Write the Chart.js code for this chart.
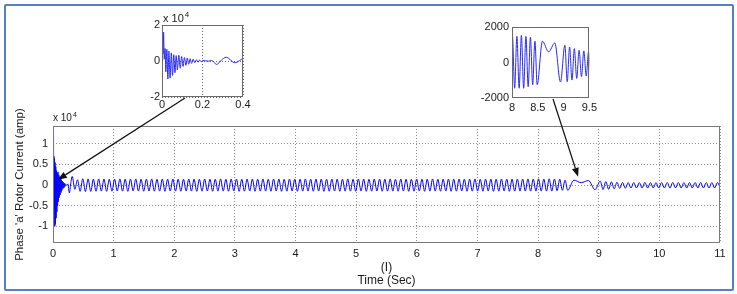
<!DOCTYPE html>
<html>
<head>
<meta charset="utf-8">
<script src="https://cdn.jsdelivr.net/npm/chart.js@4.4.0/dist/chart.umd.min.js"></script>
<style>
  body { margin: 0; background: #fff; }
  #wrap { position: relative; width: 737px; height: 294px; overflow: hidden; }
  #frame { position: absolute; left: 4px; top: 4px; width: 726px; height: 283px; border: 2px solid #5081c8; border-radius: 2px; }
  canvas { position: absolute; }
  #mainChart { left: 0; top: 0; }
  #zoomStart { left: 140px; top: 5px; }
  #zoomEnd { left: 470px; top: 10px; }
</style>
</head>
<body>
<div id="wrap">
  <div id="frame"></div>
  <canvas id="mainChart" width="737" height="294"></canvas>
  <canvas id="zoomStart" width="115" height="110"></canvas>
  <canvas id="zoomEnd" width="130" height="110"></canvas>
</div>
<script>
  // rotor current (amp)
  // start-up transient, explicit time / value pairs
  var transT = [0, 0.002, 0.005, 0.008, 0.011, 0.015, 0.019, 0.024, 0.029, 0.034,
    0.040, 0.046, 0.052, 0.058, 0.064, 0.070, 0.076, 0.083, 0.090, 0.097,
    0.104, 0.111, 0.118, 0.125, 0.132, 0.139, 0.146, 0.154, 0.162, 0.170,
    0.178, 0.186, 0.194, 0.202, 0.215, 0.230, 0.245, 0.270, 0.292, 0.317];
  var transV = [0, 17500, 4000, 16000, 1000, 7000, -6000, 6500, -10000, 5500,
    -9500, 4500, -8000, 3500, -6500, 3000, -5000, 3200, -4000, 2500,
    -3000, 2000, -2400, 1700, -1800, 1300, -1300, 1000, -900, 700,
    -700, 500, -400, 300, 100, -100, 300, -1900, 300, 2100];

  // steady oscillation, extrema sampled every half period
  var steadyStart = 0.36, steadyStep = 0.0437;
  var steadyV = [
    -1000, 1300, -1500, 1550, -1550, 1500, -1520, 1450, -1480, 1500,
    -1450, 1480, -1500, 1420, -1470, 1450, -1430, 1500, -1460, 1440,
    -1500, 1460, -1420, 1490, -1450, 1430, -1480, 1460, -1440, 1500,
    -1470, 1420, -1450, 1480, -1500, 1440, -1430, 1470, -1460, 1450,
    -1480, 1430, -1440, 1490, -1450, 1460, -1500, 1420, -1470, 1480,
    -1430, 1450, -1490, 1440, -1460, 1500, -1450, 1430, -1480, 1470,
    -1440, 1460, -1500, 1420, -1470, 1480, -1430, 1450, -1490, 1440,
    -1460, 1500, -1450, 1430, -1480, 1470, -1440, 1460, -1500, 1420,
    -1470, 1480, -1430, 1450, -1490, 1440, -1460, 1500, -1450, 1430,
    -1480, 1470, -1440, 1460, -1500, 1420, -1470, 1480, -1430, 1450,
    -1490, 1440, -1460, 1500, -1450, 1430, -1480, 1470, -1440, 1460,
    -1500, 1420, -1470, 1480, -1430, 1450, -1490, 1440, -1460, 1500,
    -1450, 1430, -1480, 1470, -1440, 1460, -1500, 1420, -1470, 1480,
    -1430, 1450, -1490, 1440, -1460, 1500, -1450, 1430, -1480, 1470,
    -1440, 1460, -1500, 1420, -1470, 1480, -1430, 1450, -1490, 1440,
    -1460, 1500, -1450, 1430, -1480, 1470, -1440, 1460, -1500, 1420,
    -1470, 1480, -1430, 1450, -1490, 1440, -1460, 1500, -1450, 1480,
    -1440, 1510, -1460, 1490, -1450, 1530, -1450, 1470, -1450, 1530,
    -1450, 1470, -1360, 1430, -1250, 1200, -1250];

  // disturbance around 8.5 - 9 s
  var humpT = [8.59, 8.71, 8.83, 8.94];
  var humpV = [1200, 600, 1100, -1100];

  // after the disturbance
  var tailStart = 9.025, tailStep = 0.046;
  var tailV = [970, -1080, 875, -990, 780, -900, 690, -800, 650, -760, 600, -710,
    620, -700, 600, -690, 640, -700, 620, -680, 600, -700, 630, -690,
    610, -700, 640, -680, 620, -700, 600, -690, 630, -700, 620, -680,
    640, -690, 610, -700, 620, -690, 630, -700];

  var mainXTicks = [0, 1, 2, 3, 4, 5, 6, 7, 8, 9, 10, 11];
  var mainYTicks = [-10000, -5000, 0, 5000, 10000];
  var startXTicks = [0, 0.2, 0.4];
  var startYTicks = [-20000, 0, 20000];
  var endXTicks = [8, 8.5, 9, 9.5];
  var endYTicks = [-2000, 0, 2000];

  function buildPoints() {
    var pts = [];
    transT.forEach(function (t, i) { pts.push({ x: t, y: transV[i] }); });
    steadyV.forEach(function (v, i) { pts.push({ x: steadyStart + i * steadyStep, y: v }); });
    humpT.forEach(function (t, i) { pts.push({ x: t, y: humpV[i] }); });
    tailV.forEach(function (v, i) { pts.push({ x: tailStart + i * tailStep, y: v }); });
    return pts;
  }

  Chart.defaults.font.family = '"Liberation Sans", Arial, sans-serif';
  Chart.defaults.color = '#1a1a1a';

  var FONT = '"Liberation Sans", Arial, sans-serif';

  // plot box + "x 10^n" label
  var boxPlugin = {
    id: 'box',
    afterDraw: function (chart, args, o) {
      var ctx = chart.ctx, a = chart.chartArea;
      ctx.save();
      ctx.strokeStyle = o.color || '#7a7a7a';
      ctx.lineWidth = 1;
      ctx.strokeRect(Math.round(a.left) + 0.5, Math.round(a.top) + 0.5,
        Math.round(a.right - a.left) - 1, Math.round(a.bottom - a.top) - 1);
      if (o.exponent) {
        ctx.fillStyle = '#1a1a1a';
        ctx.textBaseline = 'alphabetic';
        ctx.font = o.expSize + 'px ' + FONT;
        var bx = a.left + o.expDx, by = a.top - o.expDy;
        ctx.fillText('x 10', bx, by);
        var w = ctx.measureText('x 10').width;
        ctx.font = Math.round(o.expSize * 0.7) + 'px ' + FONT;
        ctx.fillText(o.exponent, bx + w + 1, by - o.expSize * 0.45);
      }
      ctx.restore();
    }
  };

  var arrowPlugin = {
    id: 'arrows',
    afterDraw: function (chart, args, o) {
      var ctx = chart.ctx, xs = chart.scales.x, ys = chart.scales.y;
      ctx.save();
      ctx.strokeStyle = '#111';
      ctx.fillStyle = '#111';
      ctx.lineWidth = 1.2;
      o.items.forEach(function (it) {
        var fx = it.from[0], fy = it.from[1];
        var tx = xs.getPixelForValue(it.at[0]), ty = ys.getPixelForValue(it.at[1]);
        var ang = Math.atan2(ty - fy, tx - fx);
        var len = 9, hw = 3.5;
        var bx = tx - len * Math.cos(ang), by = ty - len * Math.sin(ang);
        ctx.beginPath();
        ctx.moveTo(fx, fy);
        ctx.lineTo(bx, by);
        ctx.stroke();
        ctx.beginPath();
        ctx.moveTo(tx, ty);
        ctx.lineTo(bx + hw * Math.sin(ang), by - hw * Math.cos(ang));
        ctx.lineTo(bx - hw * Math.sin(ang), by + hw * Math.cos(ang));
        ctx.closePath();
        ctx.fill();
      });
      ctx.restore();
    }
  };

  function fmt1e4(v) { return String(Math.round(v / 1000) / 10); }
  function plain(v) { return String(v); }

  function lineSet(color) {
    return {
      data: buildPoints(),
      borderColor: color,
      borderWidth: 1,
      pointRadius: 0,
      cubicInterpolationMode: 'monotone',
      fill: false
    };
  }

  // main plot
  new Chart(document.getElementById('mainChart'), {
    type: 'line',
    data: { datasets: [lineSet('#0000ff')] },
    options: {
      responsive: false,
      animation: false,
      devicePixelRatio: 1,
      layout: { padding: { left: 0, right: 17, top: 126, bottom: 0 } },
      plugins: {
        legend: { display: false },
        tooltip: { enabled: false },
        box: { color: '#7a7a7a', exponent: '4', expSize: 10, expDx: 0, expDy: 5 },
        arrows: {
          items: [
            { from: [185, 98], at: [0.08, 1300] },
            { from: [553, 99], at: [8.66, 2000] }
          ]
        }
      },
      scales: {
        x: {
          type: 'linear', min: 0, max: 11,
          afterBuildTicks: function (s) { s.ticks = mainXTicks.map(function (v) { return { value: v }; }); },
          afterFit: function (s) { s.height = 51; },
          ticks: { font: { size: 11 }, padding: 4, maxRotation: 0, callback: plain },
          grid: { color: '#8c8c8c', drawTicks: false },
          border: { display: false, dash: [1, 2] },
          title: {
            display: true, text: ['(I)', 'Time (Sec)'],
            font: { size: 12, lineHeight: 1.08 }, padding: { top: 0, bottom: 7 }
          }
        },
        y: {
          type: 'linear', min: -14000, max: 14300,
          afterBuildTicks: function (s) { s.ticks = mainYTicks.map(function (v) { return { value: v }; }); },
          afterFit: function (s) { s.width = 53; },
          ticks: { font: { size: 11 }, padding: 5, callback: fmt1e4 },
          grid: { color: '#8c8c8c', drawTicks: false },
          border: { display: false, dash: [1, 2] },
          title: {
            display: true, text: "Phase 'a' Rotor Current (amp)",
            font: { size: 11.5 }, padding: { top: 13, bottom: 0 }
          }
        }
      }
    },
    plugins: [boxPlugin, arrowPlugin]
  });

  // zoom on start-up
  new Chart(document.getElementById('zoomStart'), {
    type: 'line',
    data: { datasets: [lineSet('#2a2aff')] },
    options: {
      responsive: false,
      animation: false,
      devicePixelRatio: 1,
      layout: { padding: { left: 0, right: 12, top: 20, bottom: 0 } },
      plugins: {
        legend: { display: false },
        tooltip: { enabled: false },
        box: { color: '#6a6a6a', exponent: '4', expSize: 11, expDx: 1, expDy: 3 }
      },
      scales: {
        x: {
          type: 'linear', min: 0, max: 0.4,
          afterBuildTicks: function (s) { s.ticks = startXTicks.map(function (v) { return { value: v }; }); },
          afterFit: function (s) { s.height = 18; },
          ticks: { font: { size: 11 }, padding: 1, maxRotation: 0, callback: plain },
          grid: { color: '#666', drawTicks: false },
          border: { display: false, dash: [1, 2] }
        },
        y: {
          type: 'linear', min: -20000, max: 20000,
          afterBuildTicks: function (s) { s.ticks = startYTicks.map(function (v) { return { value: v }; }); },
          afterFit: function (s) { s.width = 22; },
          ticks: { font: { size: 11 }, padding: 2, callback: fmt1e4 },
          grid: { color: '#666', drawTicks: false },
          border: { display: false, dash: [1, 2] }
        }
      }
    },
    plugins: [boxPlugin]
  });

  // zoom on the 8 - 9.5 s disturbance
  new Chart(document.getElementById('zoomEnd'), {
    type: 'line',
    data: { datasets: [lineSet('#2a2aff')] },
    options: {
      responsive: false,
      animation: false,
      devicePixelRatio: 1,
      layout: { padding: { left: 0, right: 9, top: 17, bottom: 0 } },
      plugins: {
        legend: { display: false },
        tooltip: { enabled: false },
        box: { color: '#6a6a6a' }
      },
      scales: {
        x: {
          type: 'linear', min: 8, max: 9.5,
          afterBuildTicks: function (s) { s.ticks = endXTicks.map(function (v) { return { value: v }; }); },
          afterFit: function (s) { s.height = 22; },
          ticks: { font: { size: 11 }, padding: 3, maxRotation: 0, callback: plain },
          grid: { display: false, drawTicks: false },
          border: { display: false }
        },
        y: {
          type: 'linear', min: -2000, max: 2000,
          afterBuildTicks: function (s) { s.ticks = endYTicks.map(function (v) { return { value: v }; }); },
          afterFit: function (s) { s.width = 42; },
          ticks: { font: { size: 11 }, padding: 3, callback: plain },
          grid: { display: false, drawTicks: false },
          border: { display: false }
        }
      }
    },
    plugins: [boxPlugin]
  });
</script>
</body>
</html>
